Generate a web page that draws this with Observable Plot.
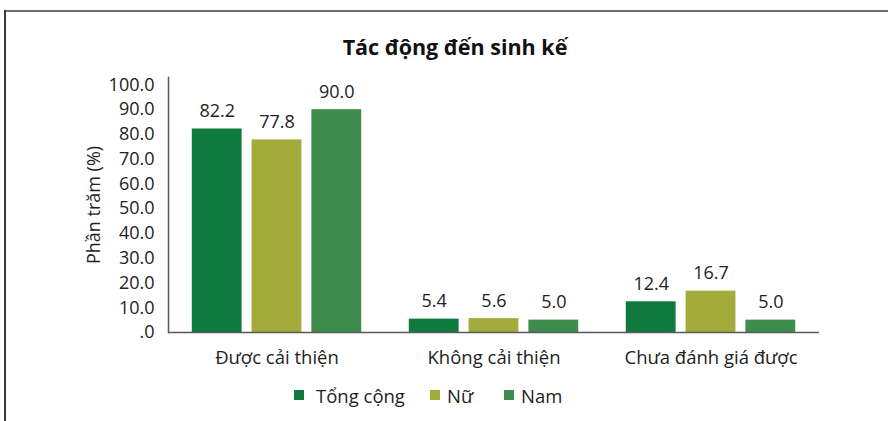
<!DOCTYPE html>
<html>
<head>
<meta charset="utf-8">
<script src="https://cdn.jsdelivr.net/npm/d3@7"></script>
<script src="https://cdn.jsdelivr.net/npm/@observablehq/plot@0.6"></script>
<style>
  html, body { margin: 0; padding: 0; background: #fff; }
  #page { position: relative; width: 888px; height: 421px; overflow: hidden; font-family: "Open Sans", sans-serif; color: #222; }
  #borderTop { position: absolute; left: 4px; top: 10px; width: 884px; height: 2px; background: #6e6e6e; }
  #borderLeft { position: absolute; left: 4px; top: 10px; width: 2px; height: 411px; background: #3a3a3a; }
  #title { position: absolute; left: 22px; width: 866px; top: 32px; text-align: center; font-weight: 700; font-size: 21.5px; color: #111; }
  #chart { position: absolute; left: 0; top: 60px; }
  #legend { position: absolute; top: 381px; left: 0; width: 888px; height: 28px; font-size: 18.5px; color: #222; }
  #legend .item { position: absolute; top: 0; height: 28px; display: flex; align-items: center; white-space: nowrap; }
  #legend .sw { width: 10px; height: 10px; display: inline-block; }
</style>
</head>
<body>
<div id="page">
  <div id="borderTop"></div>
  <div id="borderLeft"></div>
  <div id="title">Tác động đến sinh kế</div>
  <div id="chart"></div>
  <div id="legend"></div>
</div>
<script>
const categories = ["Được cải thiện", "Không cải thiện", "Chưa đánh giá được"];
const seriesNames = ["Tổng cộng", "Nữ", "Nam"];
const seriesColors = ["#107a3e", "#a3ab3b", "#3e8d4e"];
const tongCong = [82.2, 5.4, 12.4];
const nu = [77.8, 5.6, 16.7];
const nam = [90.0, 5.0, 5.0];
const yTicks = [0, 10, 20, 30, 40, 50, 60, 70, 80, 90, 100];

const seriesValues = [tongCong, nu, nam];
const data = [];
categories.forEach((cat, i) => {
  seriesNames.forEach((s, j) => {
    data.push({cat, series: s, value: seriesValues[j][i]});
  });
});

const fmt = d => d === 0 ? ".0" : d.toFixed(1);

const chart = Plot.plot({
  width: 888,
  height: 310,
  marginLeft: 167,
  marginRight: 68,
  marginTop: 17,
  marginBottom: 38,
  style: {fontFamily: "Open Sans, sans-serif", color: "#222", background: "transparent"},
  fx: {domain: categories, padding: 0, label: null},
  x: {domain: seriesNames, paddingInner: 10 / 60, paddingOuter: 0.3975, axis: null, round: false},
  y: {domain: [0, 103], label: null},
  color: {domain: seriesNames, range: seriesColors},
  marks: [
    Plot.barY(data, {fx: "cat", x: "series", y: "value", fill: "series"}),
    Plot.text(data, {fx: "cat", x: "series", y: "value", text: d => fmt(d.value), dy: -12, lineAnchor: "bottom", fontSize: 18, fill: "#222"}),
    Plot.ruleY([0], {stroke: "#595959", strokeWidth: 1.5}),
    Plot.frame({anchor: "left", facetAnchor: "left", stroke: "#595959", strokeWidth: 1.5}),
    Plot.axisY({ticks: yTicks, tickFormat: fmt, tickSize: 0, tickPadding: 14, fontSize: 18, label: "Phần trăm (%)", labelArrow: "none", labelAnchor: "center", labelOffset: 81}),
    Plot.axisFx({anchor: "bottom", tickSize: 0, tickPadding: 18, fontSize: 18.5, label: null})
  ]
});
document.getElementById("chart").appendChild(chart);

const legend = document.getElementById("legend");
const itemLeft = [294, 430, 504];
const textGaps = [12, 7, 7];
seriesNames.forEach((s, j) => {
  const item = document.createElement("span");
  item.className = "item";
  item.style.left = itemLeft[j] + "px";
  const sw = document.createElement("span");
  sw.className = "sw";
  sw.style.background = seriesColors[j];
  sw.style.marginRight = textGaps[j] + "px";
  const t = document.createElement("span");
  t.textContent = s;
  item.appendChild(sw);
  item.appendChild(t);
  legend.appendChild(item);
});
</script>
</body>
</html>
